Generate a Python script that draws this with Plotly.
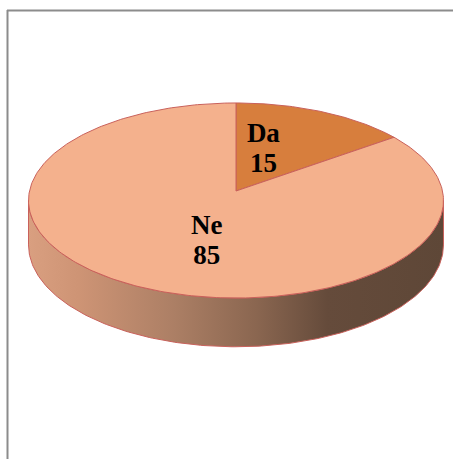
import numpy as np
import plotly.graph_objects as go

# ---- data ----
categories = ["Da", "Ne"]
values = [15, 85]
slice_colors = ["#D77E3D", "#F4B18D"]

# ---- geometry (pixel space, y down) ----
W, H = 453, 459
cx, cy = 236.0, 191.0      # projected pie centre
rx, ry = 206.5, 96.6       # radii
e = 0.0974                 # perspective factor
depth = 44.0               # thickness
edge = "#C9615B"


def proj(phi, drop=0.0):
    s = 1.0 / (1.0 + e * np.cos(phi))
    x = cx + rx * np.sin(phi) * s
    y = cy - ry * np.cos(phi) * s + drop * s
    return x, y


fig = go.Figure()

# side wall (front visible part)
a1 = np.arccos(-e)
a2 = 2 * np.pi - a1
phis = np.linspace(a1, a2, 200)
tx, ty = proj(phis)
bx, by = proj(phis[::-1], depth)
fig.add_trace(go.Scatter(
    x=np.concatenate([tx, bx, tx[:1]]),
    y=np.concatenate([ty, by, ty[:1]]),
    mode="lines", fill="toself",
    line=dict(color=edge, width=1),
    fillgradient=dict(type="horizontal", colorscale=[
        [0.0, "#D99F80"], [0.12, "#CE9475"], [0.35, "#AC7F65"],
        [0.55, "#8A6650"], [0.72, "#654B3B"], [1.0, "#5E4737"]]),
    hoverinfo="skip", showlegend=False))

# top slices
total = float(sum(values))
start = 0.0
lx, ly, lt = [], [], []
for cat, v, col in zip(categories, values, slice_colors):
    a0 = start / total * 2 * np.pi
    a1s = (start + v) / total * 2 * np.pi
    ph = np.linspace(a0, a1s, max(int(v * 4), 20))
    ax_, ay_ = proj(ph)
    fig.add_trace(go.Scatter(
        x=np.concatenate([[cx], ax_, [cx]]),
        y=np.concatenate([[cy], ay_, [cy]]),
        mode="lines", fill="toself", fillcolor=col,
        line=dict(color=edge, width=1),
        hoverinfo="skip", showlegend=False))
    mid = (a0 + a1s) / 2
    s = 1.0 / (1.0 + e * np.cos(mid))
    px = cx + 0.3 * rx * np.sin(mid) * s
    py = cy - 0.53 * ry * np.cos(mid) * s
    lx += [px + 1.5, px + 1.5]
    ly += [py - 14, py + 16]
    lt += [f"<b>{cat}</b>", f"<b>{v}</b>"]
    start += v

fig.add_trace(go.Scatter(
    x=lx, y=ly, text=lt, mode="text",
    textposition="middle center",
    textfont=dict(family="Liberation Serif", size=27, color="black"),
    hoverinfo="skip", showlegend=False))

# chart-area border (left and top)
fig.add_shape(type="line", x0=7.5, x1=7.5, y0=10, y1=H,
              line=dict(color="#8C8C8C", width=2), layer="above")
fig.add_shape(type="line", x0=7, x1=W, y0=10.5, y1=10.5,
              line=dict(color="#8C8C8C", width=2), layer="above")

fig.update_layout(
    width=W, height=H, margin=dict(l=0, r=0, t=0, b=0),
    paper_bgcolor="white", plot_bgcolor="white",
    xaxis=dict(range=[0, W], visible=False, fixedrange=True),
    yaxis=dict(range=[H, 0], visible=False, fixedrange=True),
    showlegend=False,
)

fig.write_html("out.html")
